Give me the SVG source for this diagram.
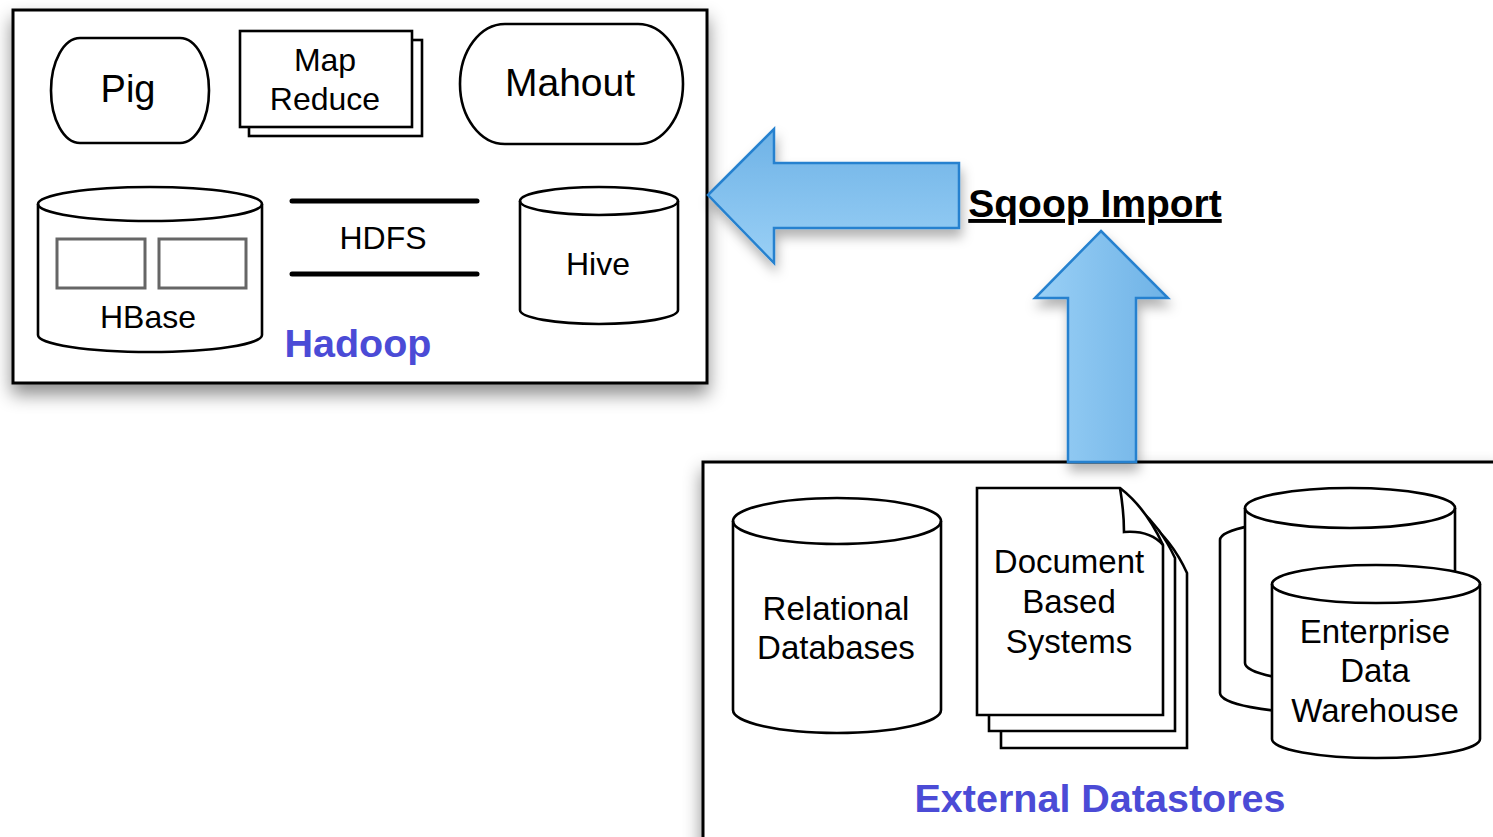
<svg xmlns="http://www.w3.org/2000/svg" width="1493" height="837" viewBox="0 0 1493 837">
<defs>
<filter id="sh" x="-10%" y="-10%" width="125%" height="135%">
<feDropShadow dx="0" dy="10" stdDeviation="9" flood-color="#000" flood-opacity="0.45"/>
</filter>
<filter id="ash" x="-20%" y="-20%" width="150%" height="150%">
<feDropShadow dx="2" dy="8" stdDeviation="6" flood-color="#000" flood-opacity="0.3"/>
</filter>
<linearGradient id="gl" x1="0" y1="0" x2="0" y2="1">
<stop offset="0" stop-color="#6eb2e6"/>
<stop offset="1" stop-color="#9ad0f6"/>
</linearGradient>
<linearGradient id="gu" x1="0" y1="0" x2="1" y2="0">
<stop offset="0" stop-color="#9ad0f6"/>
<stop offset="1" stop-color="#6eb2e6"/>
</linearGradient>
</defs>
<style>
.s{fill:#fff;stroke:#000;stroke-width:2.6}
.ln{fill:none;stroke:#000;stroke-width:2.6}
.t{font-family:"Liberation Sans",Arial,sans-serif;fill:#000;text-anchor:middle}
.lab{font-family:"Liberation Sans",Arial,sans-serif;font-weight:bold;fill:#4b4bd6;text-anchor:middle;font-size:39.5px}
.arr{stroke:#2581cf;stroke-width:2.5;stroke-linejoin:miter}
.in{fill:#fff;stroke:#666;stroke-width:3}
</style>
<rect width="1493" height="837" fill="#fff"/>

<g id="hadoop">
<rect x="13" y="10" width="694" height="373" fill="#fff" stroke="#000" stroke-width="3" filter="url(#sh)"/>
<text class="lab" x="358" y="357">Hadoop</text>
</g>

<g id="pig">
<path class="s" d="M80,38 H180 A29,52.5 0 0 1 180,143 H80 A29,52.5 0 0 1 80,38 Z"/>
<text class="t" x="128" y="102" font-size="38">Pig</text>
</g>

<g id="mapreduce">
<rect class="s" x="249" y="40" width="173" height="96"/>
<rect class="s" x="240" y="31" width="172" height="96"/>
<text class="t" x="325" y="71" font-size="32">Map</text>
<text class="t" x="325" y="110" font-size="32">Reduce</text>
</g>

<g id="mahout">
<path class="s" d="M505,24 H638 A45,60 0 0 1 638,144 H505 A45,60 0 0 1 505,24 Z"/>
<text class="t" x="570" y="96" font-size="39">Mahout</text>
</g>

<g id="hbase">
<path class="s" d="M38,204 A112,17 0 0 1 262,204 V335 A112,17 0 0 1 38,335 Z"/>
<path class="ln" d="M38,204 A112,17 0 0 0 262,204"/>
<rect class="in" x="57" y="239" width="88" height="49"/>
<rect class="in" x="159" y="239" width="87" height="49"/>
<text class="t" x="148" y="328" font-size="32">HBase</text>
</g>

<g id="hdfs">
<line x1="292" y1="201" x2="477" y2="201" stroke="#000" stroke-width="5" stroke-linecap="round"/>
<line x1="292" y1="274" x2="477" y2="274" stroke="#000" stroke-width="5" stroke-linecap="round"/>
<text class="t" x="383" y="249" font-size="32">HDFS</text>
</g>

<g id="hive">
<path class="s" d="M520,201 A79,14 0 0 1 678,201 V310 A79,14 0 0 1 520,310 Z"/>
<path class="ln" d="M520,201 A79,14 0 0 0 678,201"/>
<text class="t" x="598" y="275" font-size="32">Hive</text>
</g>

<g id="external">
<rect x="703" y="462" width="800" height="400" fill="#fff" stroke="#000" stroke-width="3" filter="url(#sh)"/>
<text class="lab" x="1100" y="812">External Datastores</text>
</g>

<g id="relational">
<path class="s" d="M733,521 A104,23 0 0 1 941,521 V710 A104,23 0 0 1 733,710 Z"/>
<path class="ln" d="M733,521 A104,23 0 0 0 941,521"/>
<text class="t" x="836" y="620" font-size="33">Relational</text>
<text class="t" x="836" y="659" font-size="33">Databases</text>
</g>

<g id="document">
<path class="s" d="M1001,520 H1146 Q1172,540 1187,573 V748 H1001 Z"/>
<path class="s" d="M989,505 H1134 Q1160,525 1175,558 V731 H989 Z"/>
<path class="s" d="M977,488 H1120 Q1146,508 1163,545 V715 H977 Z"/>
<path class="ln" d="M1120,488 Q1124,512 1124,532 Q1150,530 1163,545"/>
<text class="t" x="1069" y="573" font-size="33">Document</text>
<text class="t" x="1069" y="613" font-size="33">Based</text>
<text class="t" x="1069" y="653" font-size="33">Systems</text>
</g>

<g id="warehouse">
<path class="s" d="M1220,540 A105,20 0 0 1 1430,540 V693 A105,20 0 0 1 1220,693 Z"/>
<path class="s" d="M1245,508 A105,20 0 0 1 1455,508 V663 A105,20 0 0 1 1245,663 Z"/>
<path class="ln" d="M1245,508 A105,20 0 0 0 1455,508"/>
<path class="s" d="M1272,584 A104,19 0 0 1 1480,584 V739 A104,19 0 0 1 1272,739 Z"/>
<path class="ln" d="M1272,584 A104,19 0 0 0 1480,584"/>
<text class="t" x="1375" y="643" font-size="33">Enterprise</text>
<text class="t" x="1375" y="682" font-size="33">Data</text>
<text class="t" x="1375" y="722" font-size="33">Warehouse</text>
</g>

<g id="connectors">
<path class="arr" fill="url(#gl)" filter="url(#ash)" d="M708,195 L774,129 V163 H959 V228 H774 V263 Z"/>
<path class="arr" fill="url(#gu)" filter="url(#ash)" d="M1101,231 L1168,298 H1136 V462 H1068 V298 H1035 Z"/>
<text x="1095" y="217" font-family="Liberation Sans,Arial,sans-serif" font-weight="bold" font-size="39" text-anchor="middle" text-decoration="underline">Sqoop Import</text>
</g>
</svg>
